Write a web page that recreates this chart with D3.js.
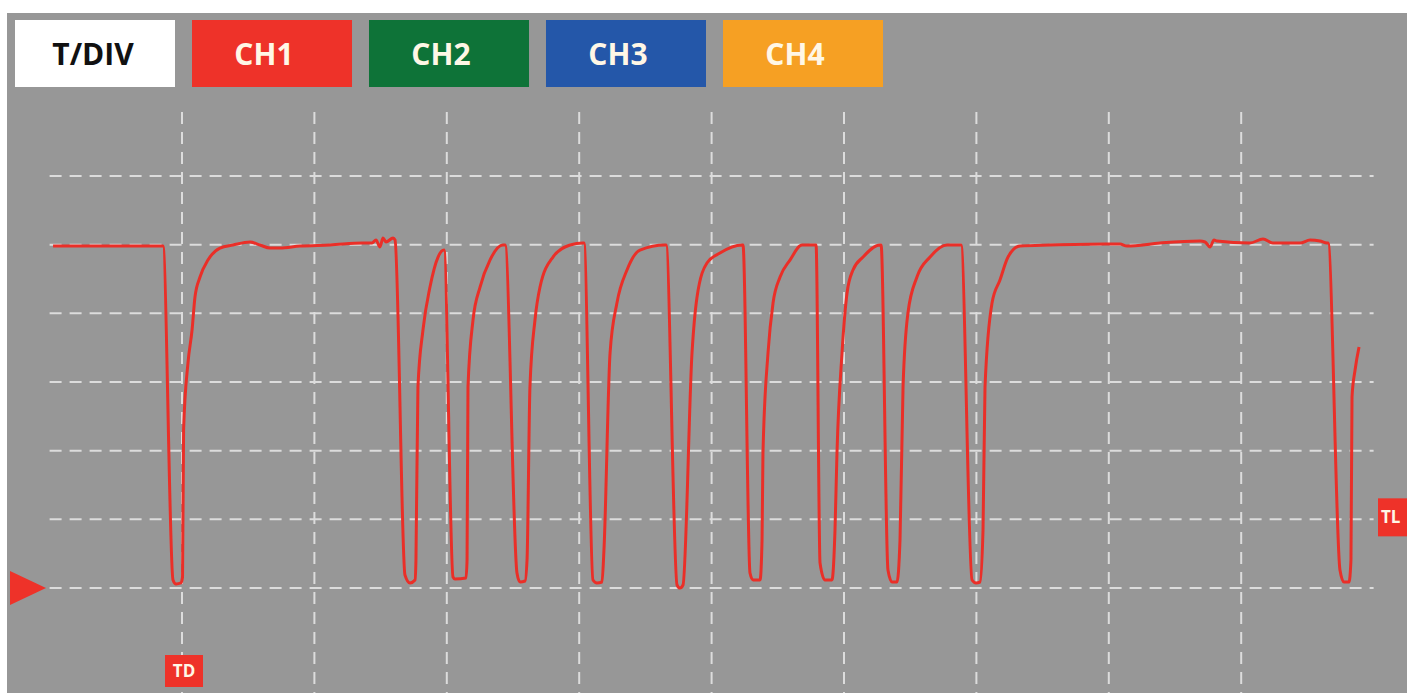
<!DOCTYPE html>
<html lang="en">
<head>
    <title>Scope trace</title>
    <meta charset="UTF-8">
    <script src="https://cdn.jsdelivr.net/npm/d3@7"></script>
    <style>
        body { margin: 0; background: #fff; }
        text { font-family: "Open Sans", "Noto Sans", sans-serif; font-weight: 700; }
    </style>
</head>
<body>
<div id="scope"></div>
<script>
    // header buttons
    var buttons = ['T/DIV', 'CH1', 'CH2', 'CH3', 'CH4'];
    var buttonColors = ['#ffffff', '#ee3229', '#0e7338', '#2457a9', '#f6a023'];
    var buttonText = ['#111111', '#fff7e6', '#fff7e6', '#fff7e6', '#fff7e6'];

    // grid in divisions (time) and volts (1 V/div)
    var timeTicks = [0, 1, 2, 3, 4, 5, 6, 7, 8];
    var voltTicks = [0, 1, 2, 3, 4, 5, 6];
    var triggerLevel = 1;

    // CH1 trace, time in divisions, value in volts
    var time = [-0.974, -0.144, -0.068, -0.045, -0.008, 0.004, 0.012, 0.045, 0.076, 0.098, 0.136, 0.196, 0.287, 0.385, 0.514, 0.589, 0.665, 0.740, 0.891, 1.118, 1.367, 1.435, 1.465, 1.495, 1.518, 1.541, 1.594, 1.609,
        1.684, 1.722, 1.760, 1.767, 1.782, 1.820, 1.873, 1.934, 1.979,
        2.047, 2.062, 2.145, 2.153, 2.160, 2.198, 2.251, 2.326, 2.424,
        2.440, 2.530, 2.553, 2.591, 2.606, 2.628, 2.666, 2.704, 2.802, 2.931, 3.029,
        3.036, 3.104, 3.134, 3.172, 3.187, 3.233, 3.285, 3.361, 3.459, 3.648,
        3.656, 3.739, 3.761, 3.784, 3.852, 3.890, 3.965, 4.063, 4.230,
        4.237, 4.290, 4.313, 4.366, 4.381, 4.388, 4.426, 4.464, 4.517, 4.592, 4.683, 4.781,
        4.789, 4.819, 4.856, 4.909, 4.932, 4.947, 4.985, 5.023, 5.068, 5.144, 5.272,
        5.280, 5.332, 5.363, 5.400, 5.423, 5.446, 5.483, 5.551, 5.650, 5.778, 5.876,
        5.884, 5.967, 5.997, 6.027, 6.050, 6.065, 6.118, 6.178, 6.239, 6.329,
        6.556, 6.971, 7.085, 7.137, 7.387, 7.689, 7.727, 7.764, 7.795, 7.817, 8.066, 8.165, 8.240, 8.444, 8.520, 8.595, 8.648,
        8.656, 8.746, 8.776, 8.814, 8.829, 8.837, 8.860, 8.890];
    var volts = [4.98, 4.98, 0.117, 0.058, 0.073, 0.160, 2.301, 3.276, 3.757, 4.238, 4.529, 4.776, 4.951, 4.995, 5.039, 4.995, 4.951, 4.951, 4.980, 4.995, 5.024, 5.024, 5.068, 4.966, 5.097, 5.039, 5.097, 5.068,
        0.189, 0.073, 0.117, 0.408, 2.927, 3.757, 4.383, 4.820, 4.922,
        0.160, 0.131, 0.146, 0.408, 2.927, 3.903, 4.383, 4.776, 4.995,
        4.995, 0.218, 0.087, 0.102, 0.408, 2.927, 3.903, 4.383, 4.820, 4.995, 5.024,
        5.024, 0.117, 0.073, 0.087, 0.553, 3.422, 4.150, 4.631, 4.922, 4.995,
        4.995, 0.044, 0.000, 0.044, 3.422, 4.238, 4.733, 4.878, 4.995,
        4.995, 0.218, 0.117, 0.117, 0.699, 1.966, 3.422, 4.150, 4.529, 4.776, 4.995, 4.995,
        4.995, 0.364, 0.117, 0.117, 0.845, 1.966, 3.422, 4.296, 4.631, 4.820, 4.995,
        4.995, 0.262, 0.087, 0.087, 0.699, 2.927, 4.005, 4.529, 4.820, 4.995, 4.995,
        4.995, 0.117, 0.073, 0.087, 0.845, 2.927, 4.150, 4.485, 4.820, 4.980,
        4.995, 5.010, 5.010, 4.980, 5.024, 5.053, 5.039, 4.966, 5.068, 5.053, 5.024, 5.083, 5.024, 5.024, 5.068, 5.053, 5.024,
        5.024, 0.262, 0.087, 0.087, 0.408, 2.781, 3.175, 3.509];

    var trace = time.map(function (t, i) { return {t: t, v: volts[i]}; });

    var W = 1407, H = 693;

    var svg = d3.select('#scope').append('svg')
        .attr('width', W)
        .attr('height', H);

    // screen
    svg.append('rect')
        .attr('x', 7).attr('y', 13)
        .attr('width', W - 7).attr('height', H - 13)
        .attr('fill', '#979797');

    var x = d3.scaleLinear().domain([-1, 9]).range([49.6, 1373.6]);
    var y = d3.scaleLinear().domain([0, 6]).range([588, 176]);

    // header buttons
    var bx = d3.scaleBand().domain(buttons).range([15, 883]).paddingInner(0.096);

    var btn = svg.selectAll('g.btn').data(buttons).join('g')
        .attr('class', 'btn')
        .attr('transform', d => `translate(${bx(d)},20)`);
    btn.append('rect')
        .attr('width', bx.bandwidth())
        .attr('height', 67)
        .attr('fill', (d, i) => buttonColors[i]);
    btn.append('text')
        .attr('x', (d, i) => i ? bx.bandwidth() / 2 - 8 : bx.bandwidth() / 2 - 2)
        .attr('y', 34)
        .attr('dy', '0.36em')
        .attr('text-anchor', 'middle')
        .attr('font-size', 30)
        .attr('fill', (d, i) => buttonText[i])
        .text(d => d);

    // dashed grid
    var grid = svg.append('g')
        .attr('stroke', '#e4e4e4')
        .attr('stroke-width', 2)
        .attr('stroke-dasharray', '12,8')
        .attr('opacity', 0.9);

    grid.selectAll('line.v').data(timeTicks).join('line')
        .attr('class', 'v')
        .attr('x1', d => x(d)).attr('x2', d => x(d))
        .attr('y1', 112).attr('y2', H);

    grid.selectAll('line.h').data(voltTicks).join('line')
        .attr('class', 'h')
        .attr('x1', x(-1)).attr('x2', x(9))
        .attr('y1', d => y(d)).attr('y2', d => y(d));

    // CH1 trace
    var line = d3.line()
        .x(d => x(d.t))
        .y(d => y(d.v))
        .curve(d3.curveMonotoneX);

    svg.append('path')
        .datum(trace)
        .attr('d', line)
        .attr('fill', 'none')
        .attr('stroke', '#ea2f28')
        .attr('stroke-width', 3)
        .attr('stroke-linejoin', 'round');

    // ground marker
    var gy = y(0);
    svg.append('path')
        .attr('d', `M10,${gy - 17}L46,${gy}L10,${gy + 17}Z`)
        .attr('fill', '#ee3229');

    // trigger delay marker
    var td = svg.append('g').attr('transform', `translate(${x(0) + 2},671)`);
    td.append('rect')
        .attr('x', -19).attr('y', -16)
        .attr('width', 38).attr('height', 32)
        .attr('fill', '#ee3229');
    td.append('text')
        .attr('text-anchor', 'middle')
        .attr('dy', '0.36em')
        .attr('font-size', 17)
        .attr('fill', '#fff7e6')
        .text('TD');

    // trigger level marker
    var tl = svg.append('g').attr('transform', `translate(1378,${y(triggerLevel) - 2})`);
    tl.append('rect')
        .attr('x', 0).attr('y', -19)
        .attr('width', 40).attr('height', 38)
        .attr('fill', '#ee3229');
    tl.append('text')
        .attr('x', 3)
        .attr('dy', '0.36em')
        .attr('font-size', 17)
        .attr('fill', '#fff7e6')
        .text('TL');
</script>
</body>
</html>
